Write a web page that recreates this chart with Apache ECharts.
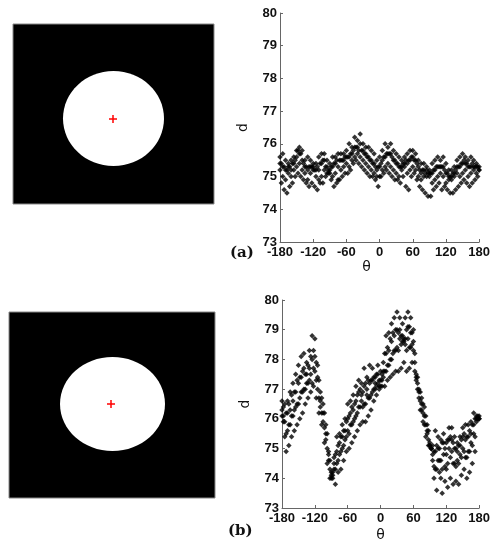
<!DOCTYPE html>
<html>
<head>
<meta charset="utf-8">
<script src="https://cdn.jsdelivr.net/npm/echarts@6/dist/echarts.min.js"></script>
<style>
  html, body { margin: 0; padding: 0; background: #fff; }
  #main { width: 493px; height: 543px; }
</style>
</head>
<body>
<div id="main"></div>
<script>
// tick labels
var thetaTicks = [-180, -120, -60, 0, 60, 120, 180];
var dTicks = [73, 74, 75, 76, 77, 78, 79, 80];

// sample angles (deg)
var thetaA = [
  -180, -175, -170, -165, -160, -155, -150, -145, -140, -135, -130, -125,
  -120, -115, -110, -105, -100, -95, -90, -85, -80, -75, -70, -65,
  -60, -55, -50, -45, -40, -35, -30, -25, -20, -15, -10, -5,
  0, 5, 10, 15, 20, 25, 30, 35, 40, 45, 50, 55,
  60, 65, 70, 75, 80, 85, 90, 95, 100, 105, 110, 115,
  120, 125, 130, 135, 140, 145, 150, 155, 160, 165, 170, 175,
  180
];
var thetaB = [
  -177.5, -172.5, -167.5, -162.5, -157.5, -152.5, -147.5, -142.5, -137.5, -132.5, -127.5, -122.5,
  -117.5, -112.5, -107.5, -102.5, -97.5, -92.5, -87.5, -82.5, -77.5, -72.5, -67.5, -62.5,
  -57.5, -52.5, -47.5, -42.5, -37.5, -32.5, -27.5, -22.5, -17.5, -12.5, -7.5, -2.5,
  2.5, 7.5, 12.5, 17.5, 22.5, 27.5, 32.5, 37.5, 42.5, 47.5, 52.5, 57.5,
  62.5, 67.5, 72.5, 77.5, 82.5, 87.5, 92.5, 97.5, 102.5, 107.5, 112.5, 117.5,
  122.5, 127.5, 132.5, 137.5, 142.5, 147.5, 152.5, 157.5, 162.5, 167.5, 172.5, 177.5
];

// panel (a): d values
var a1 = [
  75.6, 75.7, 75.5, 75.4, 75.5, 75.6, 75.8, 75.9, 75.8, 75.5, 75.6, 75.5,
  75.4, 75.4, 75.6, 75.7, 75.7, 75.5, 75.4, 75.6, 75.6, 75.7, 75.7, 75.7,
  75.8, 76.0, 75.9, 76.2, 76.1, 76.3, 76.0, 75.9, 75.9, 75.8, 75.7, 75.5,
  75.6, 75.8, 76.0, 75.9, 76.0, 75.8, 75.7, 75.6, 75.5, 75.6, 75.7, 75.8,
  75.8, 75.7, 75.5, 75.4, 75.4, 75.3, 75.2, 75.4, 75.5, 75.6, 75.5, 75.6,
  75.4, 75.2, 75.2, 75.3, 75.5, 75.6, 75.7, 75.6, 75.5, 75.6, 75.5, 75.4,
  75.3
];
var a5 = [
  75.4, 75.3, 75.2, 75.3, 75.2, 75.4, 75.6, 75.7, 75.5, 75.3, 75.2, 75.3,
  75.3, 75.2, 75.2, 75.4, 75.5, 75.3, 75.2, 75.3, 75.4, 75.3, 75.5, 75.5,
  75.6, 75.6, 75.7, 75.9, 75.9, 76.0, 75.8, 75.7, 75.6, 75.5, 75.4, 75.2,
  75.3, 75.5, 75.6, 75.7, 75.7, 75.5, 75.4, 75.3, 75.3, 75.4, 75.4, 75.5,
  75.6, 75.5, 75.3, 75.1, 75.2, 75.2, 75.1, 75.1, 75.2, 75.3, 75.3, 75.3,
  75.1, 75.0, 75.0, 75.1, 75.3, 75.3, 75.4, 75.4, 75.3, 75.3, 75.3, 75.3,
  75.2
];
var a3 = [
  75.2, 75.0, 74.9, 75.1, 75.0, 75.2, 75.3, 75.4, 75.2, 75.1, 74.9, 75.1,
  75.2, 75.0, 74.9, 75.0, 75.2, 75.1, 75.1, 75.0, 75.1, 74.9, 75.2, 75.3,
  75.4, 75.3, 75.5, 75.6, 75.7, 75.6, 75.5, 75.4, 75.3, 75.2, 75.1, 75.0,
  75.0, 75.2, 75.3, 75.4, 75.3, 75.2, 75.1, 75.0, 75.2, 75.3, 75.1, 75.2,
  75.3, 75.2, 75.0, 74.9, 75.0, 75.0, 75.0, 74.8, 74.9, 75.0, 75.1, 75.0,
  74.8, 74.9, 74.9, 75.0, 75.1, 75.0, 75.1, 75.2, 75.0, 75.1, 75.2, 75.1,
  75.2
];
var a2 = [
  75.4, 75.3, 75.2, 75.3, 75.4, 75.5, 75.8, 75.7, 75.4, 75.3, 75.3, 75.3,
  75.2, 75.3, 75.4, 75.5, 75.3, 75.2, 75.3, 75.4, 75.5, 75.5, 75.5, 75.6,
  75.6, 75.7, 75.8, 75.9, 75.8, 75.8, 75.7, 75.6, 75.5, 75.4, 75.3, 75.3,
  75.4, 75.6, 75.7, 75.7, 75.6, 75.5, 75.4, 75.3, 75.4, 75.5, 75.5, 75.6,
  75.5, 75.4, 75.2, 75.2, 75.1, 75.1, 75.1, 75.2, 75.3, 75.3, 75.3, 75.2,
  75.1, 75.0, 75.1, 75.2, 75.3, 75.4, 75.5, 75.4, 75.3, 75.4, 75.3, 75.3
];
var a4 = [
  74.8, 74.6, 74.5, 74.7, 74.8, 75.0, 75.1, 75.0, 74.9, 74.8, 74.7, 74.8,
  74.7, 74.6, 74.8, 74.8, 75.0, 75.1, 74.9, 74.7, 74.8, 74.9, 75.0, 75.1,
  75.1, 75.2, 75.4, 75.5, 75.4, 75.3, 75.2, 75.1, 75.0, 75.0, 74.9, 74.7,
  75.0, 75.1, 75.2, 75.1, 75.0, 74.9, 74.9, 74.8, 75.0, 74.7, 74.6, 75.0,
  75.1, 74.9, 74.7, 74.6, 74.5, 74.4, 74.4, 74.6, 74.7, 74.8, 74.6, 74.7,
  74.6, 74.5, 74.5, 74.6, 74.7, 74.8, 74.9, 74.8, 74.7, 74.8, 74.9, 75.0
];

// panel (b): d values
var b1 = [
  76.6, 76.5, 76.6, 76.9, 77.2, 77.5, 77.8, 78.1, 78.2, 77.9, 78.3, 78.8,
  78.7, 77.8, 76.9, 76.5, 75.8, 74.9, 74.2, 74.7, 75.4, 75.5, 75.8, 76.0,
  76.5, 76.6, 76.8, 77.1, 77.3, 77.2, 77.7, 77.4, 77.8, 77.7, 77.4, 77.8,
  77.6, 77.9, 78.8, 78.9, 79.2, 79.4, 79.6, 79.4, 79.2, 79.4, 79.6, 79.4,
  79.0, 77.5, 77.0, 76.7, 76.4, 75.8, 75.2, 75.1, 75.6, 75.4, 75.3, 75.5,
  75.2, 75.7, 75.7, 75.4, 75.2, 75.4, 75.7, 75.8, 75.8, 75.9, 76.2, 76.1,
  76.0
];
var b5 = [
  76.3, 75.9, 76.2, 76.3, 76.6, 76.9, 77.2, 77.4, 77.7, 77.5, 77.7, 78.0,
  78.1, 77.4, 76.6, 76.2, 75.5, 74.8, 74.1, 74.5, 74.9, 75.2, 75.4, 75.6,
  76.0, 76.2, 76.3, 76.6, 76.9, 76.8, 77.1, 77.0, 77.2, 77.3, 77.2, 77.5,
  77.3, 77.6, 78.2, 78.3, 78.6, 78.8, 79.0, 79.0, 78.8, 78.7, 79.1, 78.9,
  78.6, 77.4, 76.9, 76.5, 76.1, 75.6, 75.1, 74.8, 74.9, 75.0, 74.6, 75.2,
  74.8, 75.3, 75.3, 75.0, 74.9, 75.1, 75.4, 75.3, 75.4, 75.5, 75.8, 76.0,
  76.1
];
var b3 = [
  76.1, 75.4, 75.6, 75.8, 76.1, 76.4, 76.5, 76.9, 77.0, 77.2, 77.3, 77.2,
  77.6, 77.0, 76.4, 75.9, 75.3, 74.6, 74.0, 74.3, 74.5, 74.8, 75.0, 75.3,
  75.6, 75.8, 75.9, 76.1, 76.4, 76.6, 76.5, 76.8, 76.7, 76.9, 77.0, 77.2,
  77.1, 77.4, 77.6, 77.8, 78.0, 78.3, 78.4, 78.7, 78.6, 78.5, 78.7, 78.4,
  78.3, 77.3, 76.7, 76.3, 75.8, 75.5, 75.1, 74.6, 74.3, 74.6, 74.0, 74.8,
  74.3, 75.0, 74.9, 74.5, 74.6, 74.8, 75.0, 74.7, 74.9, 75.2, 75.5, 75.9,
  76.0
];
var b2 = [
  76.4, 76.2, 76.5, 76.8, 76.9, 77.3, 77.4, 77.6, 77.5, 77.8, 78.1, 78.3,
  77.9, 77.3, 76.7, 76.2, 75.5, 74.6, 74.2, 74.8, 75.1, 75.4, 75.6, 75.9,
  76.1, 76.4, 76.5, 76.8, 77.0, 76.9, 77.2, 77.3, 77.3, 77.4, 77.5, 77.3,
  77.5, 78.2, 78.4, 78.7, 78.9, 79.0, 78.9, 78.8, 78.7, 79.0, 79.1, 78.9,
  78.2, 77.4, 76.9, 76.5, 76.1, 75.6, 75.0, 74.9, 75.1, 75.0, 75.2, 75.0,
  75.3, 75.4, 75.2, 75.0, 75.1, 75.3, 75.5, 75.4, 75.6, 75.8, 76.0, 76.1
];
var b6 = [
  76.1, 75.5, 75.8, 76.1, 76.3, 76.5, 76.7, 76.9, 77.0, 77.2, 77.5, 77.7,
  77.3, 76.7, 76.2, 75.7, 75.0, 74.3, 74.1, 74.3, 74.6, 74.9, 75.1, 75.4,
  75.5, 75.8, 76.0, 76.2, 76.4, 76.4, 76.5, 76.7, 76.8, 77.0, 77.1, 77.1,
  77.3, 77.6, 77.8, 78.0, 78.2, 78.3, 78.3, 78.5, 78.6, 78.3, 78.4, 78.5,
  77.9, 77.2, 76.6, 76.2, 75.8, 75.3, 75.0, 74.4, 74.3, 74.6, 74.3, 74.4,
  74.5, 74.7, 74.5, 74.4, 74.5, 74.7, 74.9, 74.7, 74.9, 75.1, 75.4, 76.0
];
var b4 = [
  75.9, 74.9, 75.1, 75.4, 75.6, 75.8, 76.0, 76.2, 76.5, 76.7, 76.9, 77.1,
  76.7, 76.2, 75.8, 75.2, 74.5, 74.0, 74.0, 73.8, 74.2, 74.3, 74.6, 74.9,
  75.0, 75.2, 75.4, 75.6, 75.8, 75.9, 75.9, 76.1, 76.3, 76.6, 76.8, 77.0,
  77.1, 77.1, 77.3, 77.4, 77.5, 77.6, 77.6, 77.7, 77.9, 77.6, 77.7, 77.9,
  77.6, 77.0, 76.3, 75.9, 75.4, 75.1, 75.0, 74.0, 73.6, 74.2, 73.5, 73.9,
  73.7, 74.0, 73.8, 73.9, 73.8, 74.1, 74.3, 74.0, 74.2, 74.5, 74.9, 76.0
];

function pairs(xs, ys) {
  var out = [];
  for (var i = 0; i < xs.length; i++) out.push([xs[i], ys[i]]);
  return out;
}

var chartDom = document.getElementById('main');
var myChart = echarts.init(chartDom, null, { renderer: 'canvas' });

var tickFont = { color: '#111', fontSize: 13, fontWeight: 'bold', fontFamily: 'Liberation Sans, Arial, sans-serif' };

function xAxisFor(idx, gap, pad) {
  return {
    gridIndex: idx, type: 'value', min: -180, max: 180, interval: 60,
    name: 'θ', nameLocation: 'middle', nameGap: gap,
    nameTextStyle: { color: '#111', fontSize: 14, fontFamily: 'DejaVu Sans, sans-serif', padding: pad },
    axisLine: { show: true, onZero: false, lineStyle: { color: '#666', width: 1 } },
    axisTick: { show: true, inside: true, length: 3, lineStyle: { color: '#666' } },
    axisLabel: Object.assign({ margin: 4, formatter: function (v) { return thetaTicks.indexOf(v) >= 0 ? String(v) : ''; } }, tickFont),
    splitLine: { show: false }
  };
}
function yAxisFor(idx, gap) {
  return {
    gridIndex: idx, type: 'value', min: 73, max: 80, interval: 1,
    name: 'd', nameLocation: 'middle', nameGap: gap, nameRotate: 90,
    nameTextStyle: { color: '#111', fontSize: 14, fontFamily: 'DejaVu Sans, sans-serif' },
    axisLine: { show: true, onZero: false, lineStyle: { color: '#666', width: 1 } },
    axisTick: { show: true, inside: true, length: 3, lineStyle: { color: '#666' } },
    axisLabel: Object.assign({ margin: 3, formatter: function (v) { return dTicks.indexOf(v) >= 0 ? String(v) : ''; } }, tickFont),
    splitLine: { show: false }
  };
}

var dot = { symbol: 'diamond', symbolSize: 5.5, itemStyle: { color: '#000' } };
function scatter(idx, data) {
  return Object.assign({ type: 'scatter', xAxisIndex: idx, yAxisIndex: idx, data: data, silent: true }, dot);
}

function plus(cx, cy) {
  return [
    { type: 'line', shape: { x1: cx - 4, y1: cy, x2: cx + 4, y2: cy }, style: { stroke: '#ff0000', lineWidth: 1.5 } },
    { type: 'line', shape: { x1: cx, y1: cy - 4, x2: cx, y2: cy + 4 }, style: { stroke: '#ff0000', lineWidth: 1.5 } }
  ];
}

var option = {
  backgroundColor: '#fff',
  animation: false,
  grid: [
    { left: 280, top: 13, width: 202, height: 229 },
    { left: 282, top: 300, width: 203, height: 210 }
  ],
  xAxis: [xAxisFor(0, 9, [0, 26, 0, 0]), xAxisFor(1, 20, 0)],
  yAxis: [yAxisFor(0, 30), yAxisFor(1, 30)],
  series: [
    scatter(0, pairs(thetaA, a1)),
    scatter(0, pairs(thetaB, a2)),
    scatter(0, pairs(thetaA, a3)),
    scatter(0, pairs(thetaB, a4)),
    scatter(0, pairs(thetaA, a5)),
    scatter(1, pairs(thetaA, b1)),
    scatter(1, pairs(thetaB, b2)),
    scatter(1, pairs(thetaA, b3)),
    scatter(1, pairs(thetaB, b4)),
    scatter(1, pairs(thetaA, b5)),
    scatter(1, pairs(thetaB, b6))
  ],
  graphic: [
    { type: 'rect', shape: { x: 13, y: 24, width: 201, height: 180 }, style: { fill: '#000', stroke: '#888', lineWidth: 1 } },
    { type: 'ellipse', shape: { cx: 113.5, cy: 118.5, rx: 50.5, ry: 47.5 }, style: { fill: '#fff' } },
    { type: 'rect', shape: { x: 9, y: 312, width: 206, height: 186 }, style: { fill: '#000', stroke: '#888', lineWidth: 1 } },
    { type: 'ellipse', shape: { cx: 112.5, cy: 404, rx: 52.5, ry: 47 }, style: { fill: '#fff' } },
    { type: 'text', left: 230, top: 246, style: { text: '(a)', fill: '#111', font: 'bold 15px "DejaVu Serif", "Liberation Serif", serif' } },
    { type: 'text', left: 228, top: 524, style: { text: '(b)', fill: '#111', font: 'bold 15px "DejaVu Serif", "Liberation Serif", serif' } }
  ].concat(plus(113, 119)).concat(plus(111, 404))
};

myChart.setOption(option);
</script>
</body>
</html>
